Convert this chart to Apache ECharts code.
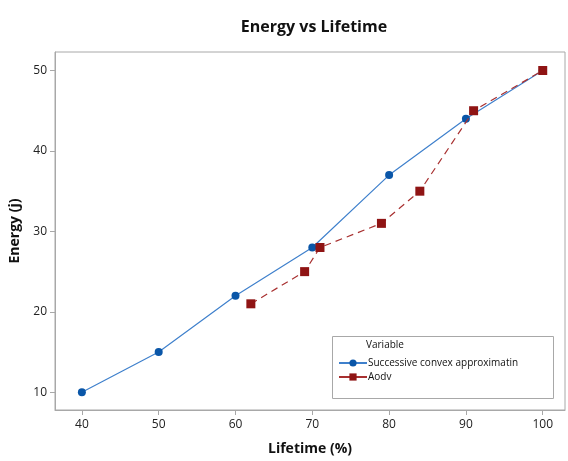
<!DOCTYPE html>
<html><head><meta charset="utf-8">
<script src="https://cdn.jsdelivr.net/npm/echarts@6/dist/echarts.min.js"></script>
<style>html,body{margin:0;padding:0;background:#fff}#c{width:568px;height:461px}</style>
</head><body><div id="c"></div>
<script>
const xTicks = [40, 50, 60, 70, 80, 90, 100];
const yTicks = [10, 20, 30, 40, 50];
const scaX = [40, 50, 60, 70, 80, 90, 100];
const scaY = [10, 15, 22, 28, 37, 44, 50];
const aodvX = [62, 69, 71, 79, 84, 91, 100];
const aodvY = [21, 25, 28, 31, 35, 45, 50];
const seriesNames = ['Successive convex approximatin', 'Aodv'];

const font = '"Open Sans", "Noto Sans", sans-serif';
const chart = echarts.init(document.getElementById('c'));
chart.setOption({
  animation: false,
  title: { text: 'Energy vs Lifetime', left: 309, top: 14, textAlign: 'center',
    textStyle: { fontFamily: font, fontSize: 16, fontWeight: 'bold', color: '#111' } },
  grid: { left: 54, top: 52, right: 3, bottom: 44, show: true, borderColor: '#a8a8a8', borderWidth: 1 },
  xAxis: { type: 'value', min: 36.5, max: 102.9,
    name: 'Lifetime (%)', nameLocation: 'middle', nameGap: 32,
    nameTextStyle: { fontFamily: font, fontSize: 14, fontWeight: 'bold', color: '#111' },
    axisLine: { show: true, lineStyle: { color: '#a8a8a8' } },
    axisTick: { show: true, length: 5, customValues: xTicks, lineStyle: { color: '#a8a8a8' } },
    axisLabel: { customValues: xTicks, fontFamily: font, fontSize: 12, color: '#222', margin: 9 },
    splitLine: { show: false } },
  yAxis: { type: 'value', min: 7.8, max: 52.3,
    name: 'Energy (j)', nameLocation: 'middle', nameGap: 33, nameRotate: 90,
    nameTextStyle: { fontFamily: font, fontSize: 14, fontWeight: 'bold', color: '#111' },
    axisLine: { show: true, lineStyle: { color: '#a8a8a8' } },
    axisTick: { show: true, length: 5, customValues: yTicks, lineStyle: { color: '#a8a8a8' } },
    axisLabel: { customValues: yTicks, fontFamily: font, fontSize: 12, color: '#222', margin: 8 },
    splitLine: { show: false } },
  legend: { orient: 'vertical', left: 333, top: 353, itemWidth: 28, itemHeight: 9, itemGap: 4,
    data: seriesNames, lineStyle: { type: 'solid' },
    textStyle: { fontFamily: font, fontSize: 10, color: '#111', padding: [0, 0, 0, -4] } },
  graphic: [
    { type: 'rect', left: 330, top: 334, shape: { width: 221, height: 62 },
      style: { fill: 'none', stroke: '#a8a8a8', lineWidth: 1 }, z: 0 },
    { type: 'text', left: 366, top: 340, style: { text: 'Variable', fontFamily: font, fontSize: 10, fill: '#111' } }
  ],
  series: [
    { name: seriesNames[0], type: 'line', data: scaX.map((x, i) => [x, scaY[i]]),
      symbol: 'circle', symbolSize: 8, itemStyle: { color: '#0a56a8' },
      lineStyle: { color: '#3f80cc', width: 1.2, type: 'solid' }, z: 2 },
    { name: seriesNames[1], type: 'line', data: aodvX.map((x, i) => [x, aodvY[i]]),
      symbol: 'rect', symbolSize: 9, itemStyle: { color: '#8f1414' },
      lineStyle: { color: '#a83030', width: 1.2, type: [7, 5] }, z: 3 }
  ]
});
</script></body></html>
